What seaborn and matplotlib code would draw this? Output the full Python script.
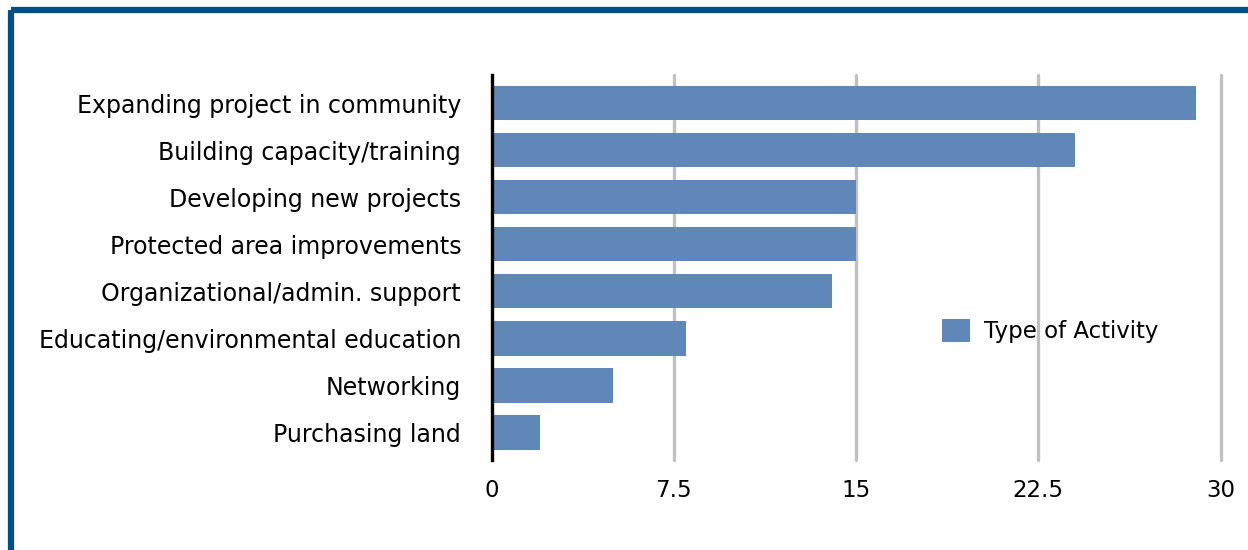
import matplotlib
matplotlib.use("Agg")
import matplotlib.pyplot as plt
import seaborn as sns
import pandas as pd
from matplotlib.patches import Patch
from matplotlib.lines import Line2D

categories = [
    "Expanding project in community",
    "Building capacity/training",
    "Developing new projects",
    "Protected area improvements",
    "Organizational/admin. support",
    "Educating/environmental education",
    "Networking",
    "Purchasing land",
]
values = [29, 24, 15, 15, 14, 8, 5, 2]
xticks = [0, 7.5, 15, 22.5, 30]
xtick_labels = ["0", "7.5", "15", "22.5", "30"]
series_name = "Type of Activity"

sns.set_theme(style="white")
plt.rcParams['font.family'] = ['DejaVu Sans']

bar_color = "#5f87b8"
df = pd.DataFrame({"cat": categories, "val": values})

fig = plt.figure(figsize=(12.48, 5.5), dpi=100)
ax = fig.add_axes([0.394, 0.164, 0.584, 0.700])

sns.barplot(data=df, x="val", y="cat", color=bar_color, saturation=1,
            width=0.73, ax=ax, orient="h", linewidth=0, edgecolor="none")

ax.set_xlim(0, 30)
ax.set_ylim(7.58, -0.6)
ax.set_xticks(xticks)
ax.set_xticklabels(xtick_labels)
ax.set_xlabel("")
ax.set_ylabel("")
ax.tick_params(axis="both", length=0, colors="black")
ax.tick_params(axis="x", pad=14, labelsize=16.5)
ax.tick_params(axis="y", pad=22, labelsize=17)

for x in xticks[1:]:
    ax.axvline(x, color="#c0c0c0", lw=2.4, zorder=0, clip_on=False)
for s in ["top", "right", "bottom"]:
    ax.spines[s].set_visible(False)
ax.spines["left"].set_color("black")
ax.spines["left"].set_linewidth(2.4)
ax.spines["left"].set_zorder(5)

handle = Patch(facecolor=bar_color, edgecolor="none")
leg = ax.legend([handle], [series_name], loc="center left",
                bbox_to_anchor=(0.59, 0.335), frameon=False, fontsize=16.5,
                handlelength=1.2, handleheight=1.2, handletextpad=0.6)
for t in leg.get_texts():
    t.set_color("black")

# frame border (top and left)
fig.add_artist(Line2D([0.0088, 1.0], [0.982, 0.982], transform=fig.transFigure,
                      color="#004f80", lw=4.5, solid_capstyle="butt"))
fig.add_artist(Line2D([0.0088, 0.0088], [0.0, 0.982], transform=fig.transFigure,
                      color="#004f80", lw=4.5, solid_capstyle="butt"))

fig.savefig("out.png", dpi=100, facecolor="white")
